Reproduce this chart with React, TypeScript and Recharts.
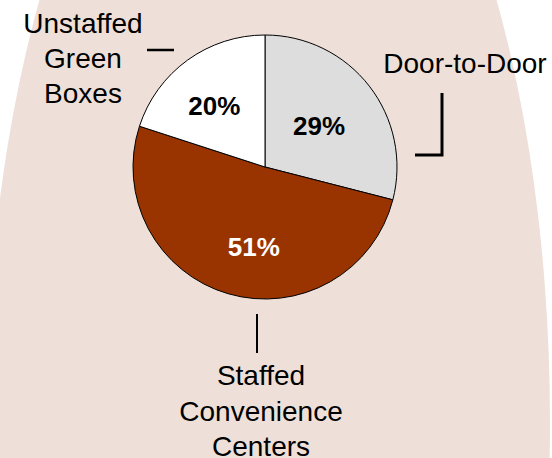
import { PieChart, Pie, Cell } from "recharts";

const categories = ["Door-to-Door", "Staffed Convenience Centers", "Unstaffed Green Boxes"];
const shares = [29, 51, 20];
const calloutText = [["Door-to-Door"], ["Staffed", "Convenience", "Centers"], ["Unstaffed", "Green", "Boxes"]];

const data = categories.map((name, i) => ({ name, value: shares[i] }));

const FILLS = ["#DDDDDD", "#993300", "#FFFFFF"];
const PCT_COLORS = ["#000000", "#FFFFFF", "#000000"];
const FONT = "'Liberation Sans', Arial, Helvetica, sans-serif";

const CX = 265;
const CY = 167;
const R = 132;
const RADIAN = Math.PI / 180;

// callout placement, relative to the pie centre
const callouts = [
  { x: 200, y: -94, gap: 35, leader: "M 177 -74 V -12 H 150", lw: 3 },
  { x: -4, y: 218, gap: 35.5, leader: "M -8 147 V 186", lw: 2 },
  { x: -182, y: -134, gap: 35, leader: "M -118 -117 H -91", lw: 2.5 },
];
// small nudges so the percentages sit where the original has them
const pctNudge = [
  [-6, 6],
  [10, 7],
  [-6, 0],
];

const renderLabel = (props: any) => {
  const { midAngle, value, index } = props;
  const r = 76;
  const px = CX + r * Math.cos(-midAngle * RADIAN) + pctNudge[index][0];
  const py = CY + r * Math.sin(-midAngle * RADIAN) + pctNudge[index][1];
  const c = callouts[index];
  return (
    <g key={`lbl-${index}`}>
      <text
        x={px}
        y={py}
        fill={PCT_COLORS[index]}
        textAnchor="middle"
        dominantBaseline="central"
        fontFamily={FONT}
        fontWeight="bold"
        fontSize={26}
      >
        {`${value}%`}
      </text>
      <g transform={`translate(${CX}, ${CY})`}>
        <path d={c.leader} stroke="#000" strokeWidth={c.lw} fill="none" />
        <text x={c.x} y={c.y} textAnchor="middle" fontFamily={FONT} fontSize={28} fill="#000">
          {calloutText[index].map((line, j) => (
            <tspan key={line} x={c.x} dy={j === 0 ? 0 : c.gap}>
              {line}
            </tspan>
          ))}
        </text>
      </g>
    </g>
  );
};

const App = () => {
  return (
    <div style={{ position: "fixed", top: 0, left: 0, width: 552, height: 458, overflow: "hidden", background: "#fff" }}>
      {/* the big rounded backdrop */}
      <div
        style={{
          position: "absolute",
          left: -14,
          top: -299,
          width: 564,
          height: 1444,
          borderRadius: "50%",
          background: "#EEE0D8",
        }}
      />
      <div style={{ position: "absolute", top: 0, left: 0 }}>
        <PieChart width={552} height={458} margin={{ top: 0, right: 0, bottom: 0, left: 0 }}>
          <Pie
            data={data}
            dataKey="value"
            nameKey="name"
            cx={CX}
            cy={CY}
            outerRadius={R}
            startAngle={90}
            endAngle={-270}
            stroke="#000"
            strokeWidth={1}
            labelLine={false}
            label={renderLabel}
            isAnimationActive={false}
          >
            {data.map((d, i) => (
              <Cell key={d.name} fill={FILLS[i]} />
            ))}
          </Pie>
        </PieChart>
      </div>
    </div>
  );
};

export default App;
